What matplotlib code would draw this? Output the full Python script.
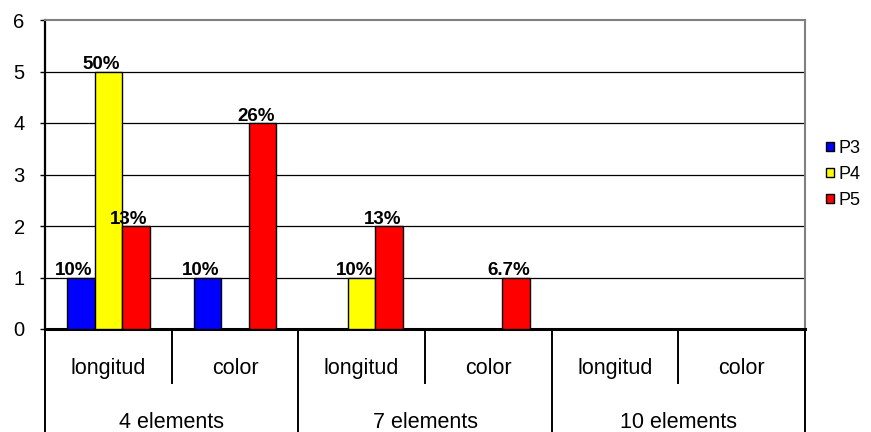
import matplotlib
matplotlib.use("Agg")
import matplotlib.pyplot as plt
from matplotlib.transforms import blended_transform_factory
from matplotlib.patches import Patch

plt.rcParams['font.family'] = ['Liberation Sans', 'DejaVu Sans']

# Data
groups = ["4 elements", "7 elements", "10 elements"]
subcats = ["longitud", "color"]
series = ["P3", "P4", "P5"]
p3 = [1, 1, 0, 0, 0, 0]
p4 = [5, 0, 1, 0, 0, 0]
p5 = [2, 4, 2, 1, 0, 0]
p3_labels = ["10%", "10%", "", "", "", ""]
p4_labels = ["50%", "", "10%", "", "", ""]
p5_labels = ["13%", "26%", "13%", "6.7%", "", ""]
y_ticks = [0, 1, 2, 3, 4, 5, 6]

colors = ["#0000FF", "#FFFF00", "#FF0000"]

W, H = 871, 432
fig = plt.figure(figsize=(W / 100, H / 100), dpi=100)

left, right, top, bottom = 45, 805, 20, 329
ax = fig.add_axes([left / W, (H - bottom) / H, (right - left) / W, (bottom - top) / H])

n = len(p3)
xs = list(range(n))
bw = 0.218
values = [p3, p4, p5]
labels = [p3_labels, p4_labels, p5_labels]
for i, (vals, labs, col, name) in enumerate(zip(values, labels, colors, series)):
    pos = [x + 0.5 + (i - 1) * bw for x in xs]
    bars = ax.bar(pos, vals, width=bw, color=col, edgecolor="black", linewidth=1.0,
                  zorder=3, label=name)
    for b, v, t in zip(bars, vals, labs):
        if t:
            ax.annotate(t, (b.get_x() + b.get_width() / 2, v), xytext=(-5, 1.5),
                        textcoords="offset points", ha="center", va="baseline",
                        fontsize=13.5, fontweight="bold", zorder=5)

ax.set_xlim(0, n)
ax.set_ylim(y_ticks[0], y_ticks[-1])
ax.set_yticks(y_ticks)
ax.set_xticks([])
for v in y_ticks[1:-1]:
    ax.axhline(v, color="black", linewidth=0.9, zorder=1)

ax.tick_params(axis="y", length=3.6, width=1.0, pad=11, labelsize=14.5, direction="out")
ax.spines["left"].set_linewidth(1.6)
ax.spines["bottom"].set_linewidth(2.2)
ax.spines["top"].set_color("#808080")
ax.spines["top"].set_linewidth(1.5)
ax.spines["right"].set_color("#808080")
ax.spines["right"].set_linewidth(1.5)

# Hierarchical category axis drawn below the plot area
tr = blended_transform_factory(ax.transData, fig.transFigure)
def fy(py):
    return (H - py) / H

for k in range(n + 1):
    if k % len(subcats) == 0:
        y_end = H + 2
    else:
        y_end = 383
    ax.plot([k, k], [fy(bottom), fy(y_end)], transform=tr, color="black",
            linewidth=1.4, clip_on=False, zorder=4)

for k in range(n):
    ax.text(k + 0.5, fy(374), subcats[k % len(subcats)], transform=tr,
            ha="center", va="baseline", fontsize=15.5)
for g, name in enumerate(groups):
    cx = g * len(subcats) + len(subcats) / 2
    ax.text(cx, fy(428), name, transform=tr, ha="center", va="baseline", fontsize=15.5)

handles = [Patch(facecolor=c, edgecolor="black", linewidth=1.0) for c in colors]
fig.legend(handles, series, loc="center left", bbox_to_anchor=(826 / W, fy(174.5)),
           frameon=False, fontsize=13, handlelength=0.42, handleheight=0.42,
           handletextpad=0.25, labelspacing=0.5, borderpad=0, borderaxespad=0)

fig.savefig("out.png", dpi=100)
